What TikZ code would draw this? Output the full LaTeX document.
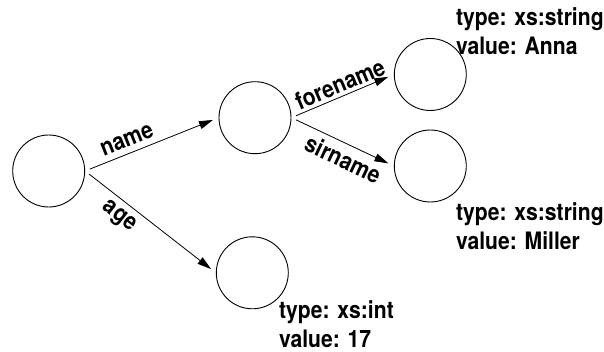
\documentclass[tikz,border=0pt]{standalone}
\usepackage{fontspec}
\newfontfamily\hel{TeX Gyre Heros}[FakeStretch=0.88]
\usetikzlibrary{arrows.meta}
\begin{document}
\begin{tikzpicture}[x=1pt,y=-1pt,
  state/.style={circle,draw,line width=0.9pt,minimum size=72pt,inner sep=0pt},
  edge/.style={draw,line width=0.8pt,-{Triangle[length=14pt,width=8pt]},shorten <=5pt,shorten >=6pt},
  lbl/.style={font=\hel\bfseries\fontsize{24}{28}\selectfont,sloped,inner sep=6pt},
  info/.style={font=\hel\bfseries\fontsize{24}{29}\selectfont,align=left,anchor=base west,inner sep=0pt}]
\useasboundingbox (0,0) rectangle (604,352);
\node[state] (root) at (48.7,171) {};
\node[state] (nm) at (255,117.7) {};
\node[state] (ag) at (252.3,272.8) {};
\node[state] (fn) at (430.3,74.5) {};
\node[state] (sn) at (430.3,166) {};
\path[edge] (root.east) -- node[lbl,above,pos=0.35] {name} (nm.west);
\path[edge] (root.east) -- node[lbl,below,pos=0.33] {age} (ag.west);
\path[edge] (nm.east) -- node[lbl,above,pos=0.52,inner sep=3pt] {forename} (fn.west);
\path[edge] (nm.east) -- node[lbl,below,pos=0.57] {sirname} (sn.west);
\node[info] (fni) at (456,55) {type: xs:string\\value: Anna};
\node[info] (sni) at (456,250) {type: xs:string\\value: Miller};
\node[info] (agi) at (279,347) {type: xs:int\\value: 17};
\end{tikzpicture}
\end{document}
